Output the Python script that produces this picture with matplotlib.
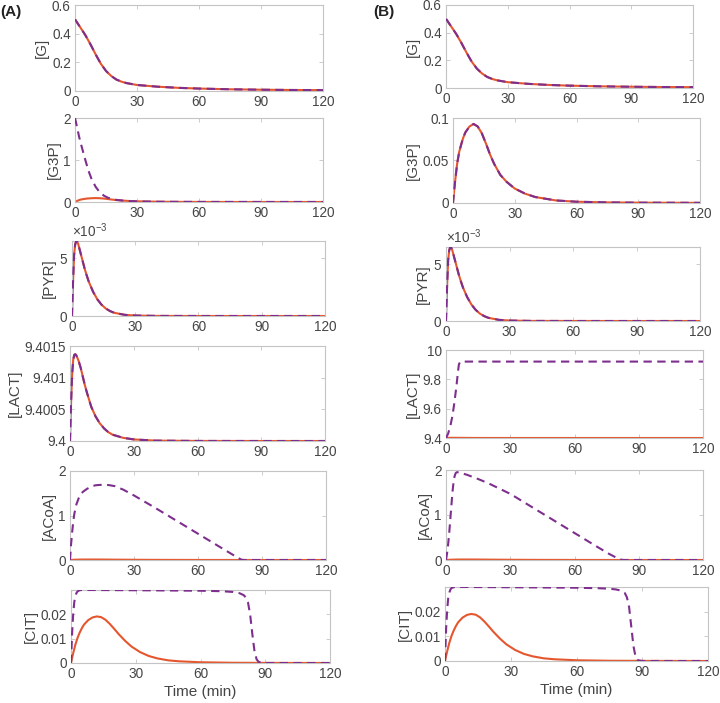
import matplotlib
matplotlib.use("Agg")
import matplotlib.pyplot as plt
from matplotlib.ticker import FuncFormatter, ScalarFormatter

plt.rcParams['font.family'] = ['Liberation Sans', 'DejaVu Sans']
plt.rcParams['mathtext.fontset'] = 'custom'
plt.rcParams['mathtext.rm'] = 'Liberation Sans'
plt.rcParams['mathtext.it'] = 'Liberation Sans'

# ---------------- data ----------------
time_ticks = [0, 30, 60, 90, 120]

# [G] (same in both panels)
t_G = [0, 2.5, 5, 7.5, 10, 12.5, 15, 17.5, 20, 22.5, 25, 30, 40, 50, 60, 75, 90, 105, 120]
G_vals = [0.50, 0.445, 0.39, 0.325, 0.255, 0.19, 0.14, 0.105, 0.08, 0.065, 0.055,
          0.042, 0.03, 0.022, 0.017, 0.012, 0.009, 0.007, 0.006]

# [G3P]
t_G3P = [0, 0.5, 1, 2, 3, 4, 5, 6, 8, 10, 12, 14, 16, 18, 20, 23, 26, 30, 35, 40,
         50, 60, 75, 90, 120]
G3P_solid = [0, 0.013, 0.025, 0.046, 0.06, 0.069, 0.077, 0.083, 0.090, 0.093, 0.090,
             0.082, 0.070, 0.057, 0.046, 0.033, 0.025, 0.017, 0.011, 0.007, 0.003,
             0.0015, 0.0007, 0.0004, 0.0002]
t_G3P_A_dash = [0, 1, 2, 3, 4, 5, 6, 7, 8, 10, 12, 14, 16, 18, 20, 25, 30, 40, 60, 90, 120]
G3P_A_dash = [2.0, 1.78, 1.55, 1.36, 1.18, 1.0, 0.83, 0.68, 0.55, 0.36, 0.23, 0.15,
              0.10, 0.07, 0.05, 0.025, 0.015, 0.006, 0.002, 0.001, 0.0005]

# [PYR]
t_PYR = [0, 0.5, 1, 1.5, 2, 2.5, 3, 4, 5, 6, 7, 8, 10, 12, 14, 16, 18, 20, 25, 30,
         40, 60, 90, 120]
PYR_vals = [0, 3.0e-3, 5.3e-3, 6.2e-3, 6.5e-3, 6.45e-3, 6.2e-3, 5.5e-3, 4.8e-3,
            4.1e-3, 3.5e-3, 2.95e-3, 2.1e-3, 1.45e-3, 0.98e-3, 0.65e-3, 0.43e-3,
            0.28e-3, 0.1e-3, 0.04e-3, 0.008e-3, 0.001e-3, 0, 0]

# [LACT]
t_LACT = [0, 0.5, 1, 1.5, 2, 2.5, 3, 4, 5, 6, 7, 8, 10, 12, 14, 16, 18, 20, 25, 30,
          40, 60, 90, 120]
LACT_solid = [9.4, 9.4006, 9.40105, 9.40128, 9.40136, 9.40137, 9.40135, 9.40127,
              9.40116, 9.40102, 9.40088, 9.40076, 9.40054, 9.40039, 9.40028,
              9.4002, 9.40014, 9.4001, 9.40005, 9.400025, 9.400006, 9.400001,
              9.4, 9.4]
t_LACT_B_dash = [0, 1, 2, 3, 4, 5, 5.5, 6, 6.5, 7, 10, 20, 40, 60, 90, 120]
LACT_B_dash = [9.4, 9.43, 9.48, 9.55, 9.65, 9.77, 9.84, 9.90, 9.918, 9.921, 9.921,
               9.921, 9.921, 9.921, 9.921, 9.921]

# [ACoA]
t_ACoA_solid = [0, 2, 5, 10, 15, 20, 30, 40, 60, 90, 120]
ACoA_solid = [0, 0.006, 0.01, 0.011, 0.01, 0.008, 0.005, 0.003, 0.001, 0.0, 0.0]
t_ACoA_A_dash = [0, 0.5, 1, 1.5, 2, 3, 4, 5, 6, 8, 10, 12, 15, 18, 21, 25, 30, 40,
                 50, 60, 70, 78, 80, 81, 82, 90, 120]
ACoA_A_dash = [0, 0.35, 0.62, 0.85, 1.03, 1.25, 1.38, 1.47, 1.53, 1.60, 1.65, 1.68,
               1.69, 1.685, 1.66, 1.58, 1.45, 1.17, 0.88, 0.59, 0.30, 0.07, 0.015,
               0.002, 0, 0, 0]
t_ACoA_B_dash = [0, 0.5, 1, 1.5, 2, 2.5, 3, 3.5, 4, 4.5, 5, 6, 8, 10, 15, 20, 30,
                 40, 50, 60, 70, 76, 80, 82, 83, 90, 120]
ACoA_B_dash = [0, 0.15, 0.35, 0.6, 0.9, 1.2, 1.5, 1.72, 1.86, 1.93, 1.95, 1.95,
               1.92, 1.89, 1.80, 1.70, 1.47, 1.18, 0.89, 0.60, 0.31, 0.14, 0.04,
               0.005, 0, 0, 0]

# [CIT]
t_CIT_solid = [0, 1, 2, 3, 4, 5, 6, 8, 10, 12, 14, 16, 18, 20, 22, 25, 28, 32, 36,
               40, 45, 50, 60, 75, 90, 120]
CIT_solid = [0, 0.004, 0.0075, 0.0103, 0.0125, 0.0143, 0.0158, 0.0177, 0.0188,
             0.0192, 0.0189, 0.0178, 0.0161, 0.0141, 0.012, 0.0092, 0.0068, 0.0045,
             0.0029, 0.0019, 0.0011, 0.0007, 0.0003, 0.0001, 0.00005, 0]
t_CIT_A_dash = [0, 0.5, 1, 1.5, 2, 2.5, 3, 4, 5, 10, 30, 60, 70, 75, 78, 80, 81, 82,
                83, 84, 85, 86, 87, 90, 120]
CIT_A_dash = [0, 0.012, 0.020, 0.025, 0.0275, 0.0288, 0.0295, 0.0300, 0.0301,
              0.0301, 0.0300, 0.0298, 0.0296, 0.0293, 0.0288, 0.0280, 0.027, 0.025,
              0.020, 0.012, 0.005, 0.0015, 0.0004, 0, 0]
t_CIT_B_dash = [0, 0.5, 1, 1.5, 2, 2.5, 3, 4, 5, 10, 30, 60, 70, 75, 78, 80, 82, 83,
                84, 85, 86, 87, 88, 90, 120]
CIT_B_dash = [0, 0.013, 0.021, 0.026, 0.028, 0.0292, 0.0298, 0.0301, 0.0302, 0.0302,
              0.0301, 0.0299, 0.0297, 0.0295, 0.0292, 0.0288, 0.0278, 0.026, 0.022,
              0.014, 0.006, 0.0015, 0.0003, 0, 0]

labels = ['[G]', '[G3P]', '[PYR]', '[LACT]', '[ACoA]', '[CIT]']

# ---------------- styling ----------------
ORANGE = '#E4572E'
PURPLE = '#7E2F8E'
BOX = '#c4c4c4'
TXT = '#454545'

W, H = 720, 703
fig = plt.figure(figsize=(W / 100, H / 100), dpi=100)

# pixel boxes (x0, x1, ytop, ybot)
pos_A = [(75, 323, 5, 91), (75, 323, 118, 202), (72, 325, 241, 316),
         (70, 325, 346, 441), (70, 326, 471, 560), (71, 330, 590, 663)]
pos_B = [(446, 693, 5, 88), (453, 700, 118, 203), (446, 700, 247, 321),
         (446, 703, 350, 438), (446, 703, 470, 560), (445, 708, 587, 661)]


def make_ax(p):
    x0, x1, yt, yb = p
    ax = fig.add_axes([x0 / W, 1 - yb / H, (x1 - x0) / W, (yb - yt) / H])
    for s in ax.spines.values():
        s.set_color(BOX)
        s.set_linewidth(0.8)
    ax.tick_params(direction='in', length=3, width=0.6, color=BOX, labelcolor=TXT,
                   labelsize=9.8, top=True, right=True, pad=3)
    ax.set_xlim(0, 120)
    ax.set_xticks(time_ticks)
    ax.xaxis.set_major_formatter(FuncFormatter(lambda v, p: '%g' % v))
    return ax


def draw(ax, ts, ys, td, yd):
    ax.plot(ts, ys, color=ORANGE, lw=1.5, solid_capstyle='butt', zorder=2)
    ax.plot(td, yd, color=PURPLE, lw=1.5, dashes=(4, 2.6), zorder=3)


gfmt = FuncFormatter(lambda v, p: '%g' % round(v, 6))

panels = {}
for col, positions in (('A', pos_A), ('B', pos_B)):
    axs = [make_ax(p) for p in positions]
    panels[col] = axs
    # G
    draw(axs[0], t_G, G_vals, t_G, G_vals)
    axs[0].set_ylim(0, 0.6)
    axs[0].set_yticks([0, 0.2, 0.4, 0.6])
    # G3P
    if col == 'A':
        draw(axs[1], t_G3P, G3P_solid, t_G3P_A_dash, G3P_A_dash)
        axs[1].set_ylim(0, 2)
        axs[1].set_yticks([0, 1, 2])
    else:
        draw(axs[1], t_G3P, G3P_solid, t_G3P, G3P_solid)
        axs[1].set_ylim(0, 0.1)
        axs[1].set_yticks([0, 0.05, 0.1])
    # PYR
    draw(axs[2], t_PYR, PYR_vals, t_PYR, PYR_vals)
    axs[2].set_ylim(0, max(PYR_vals))
    axs[2].set_yticks([0, 5e-3])
    # LACT
    if col == 'A':
        draw(axs[3], t_LACT, LACT_solid, t_LACT, LACT_solid)
        axs[3].set_ylim(9.4, 9.4015)
        axs[3].set_yticks([9.4, 9.4005, 9.401, 9.4015])
    else:
        draw(axs[3], t_LACT, LACT_solid, t_LACT_B_dash, LACT_B_dash)
        axs[3].set_ylim(9.4, 10)
        axs[3].set_yticks([9.4, 9.6, 9.8, 10])
    # ACoA
    if col == 'A':
        draw(axs[4], t_ACoA_solid, ACoA_solid, t_ACoA_A_dash, ACoA_A_dash)
    else:
        draw(axs[4], t_ACoA_solid, ACoA_solid, t_ACoA_B_dash, ACoA_B_dash)
    axs[4].set_ylim(0, 2)
    axs[4].set_yticks([0, 1, 2])
    # CIT
    if col == 'A':
        draw(axs[5], t_CIT_solid, CIT_solid, t_CIT_A_dash, CIT_A_dash)
        axs[5].set_ylim(0, max(CIT_A_dash))
    else:
        draw(axs[5], t_CIT_solid, CIT_solid, t_CIT_B_dash, CIT_B_dash)
        axs[5].set_ylim(0, max(CIT_B_dash))
    axs[5].set_yticks([0, 0.01, 0.02])
    axs[5].set_xlabel('Time (min)', fontsize=11, color=TXT, labelpad=3)

    for i, ax in enumerate(axs):
        if i == 2:
            sf = ScalarFormatter(useMathText=True)
            sf.set_powerlimits((-2, 2))
            ax.yaxis.set_major_formatter(sf)
            ax.yaxis.get_offset_text().set_fontsize(9.8)
            ax.yaxis.get_offset_text().set_color(TXT)
        else:
            ax.yaxis.set_major_formatter(gfmt)
        ax.set_ylabel(labels[i], fontsize=11, color=TXT, labelpad=2)

fig.text(0 / W, 1 - 12 / H, '(A)', fontsize=11, fontweight='bold', va='center', ha='left',
         color='#222222')
fig.text(373 / W, 1 - 12 / H, '(B)', fontsize=11, fontweight='bold', va='center', ha='left',
         color='#222222')

fig.savefig('out.png', dpi=100)
